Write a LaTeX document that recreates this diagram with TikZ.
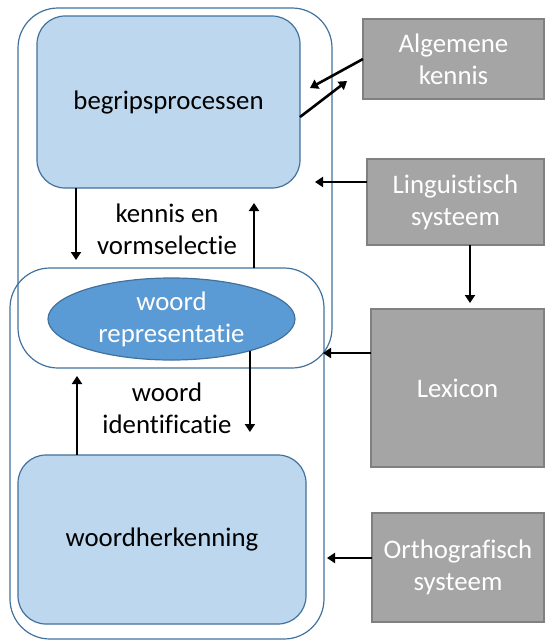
\documentclass[tikz,border=0pt]{standalone}
\usepackage{fontspec}
\setmainfont{Carlito}[Ligatures=NoCommon]
\usetikzlibrary{arrows.meta,shapes.geometric}
\definecolor{edgeblue}{HTML}{41719C}
\definecolor{lightblue}{HTML}{BDD7EE}
\definecolor{midblue}{HTML}{5B9BD5}
\definecolor{grayfill}{HTML}{A5A5A5}
\definecolor{grayedge}{HTML}{808080}
\begin{document}
\begin{tikzpicture}[x=1pt,y=-1pt,
  every node/.style={font=\fontsize{26.8}{31.7}\selectfont, align=center, inner sep=0pt, outer sep=0pt},
  container/.style={draw=edgeblue, line width=1.2pt, rounded corners=40pt},
  procbox/.style={draw=edgeblue, line width=1.2pt, fill=lightblue, rounded corners=28pt},
  repr/.style={ellipse, draw=edgeblue, line width=1.2pt, fill=midblue, text=white},
  source/.style={draw=grayedge, line width=1.2pt, fill=grayfill, text=white},
  arr/.style={-{Triangle[length=8pt,width=10pt]}, line width=2.6pt, black}]
\useasboundingbox (0,0) rectangle (545,641);

% two overlapping frames
\node[container, minimum width=314pt, minimum height=360pt] (upper) at (175,188) {};
\node[container, minimum width=314pt, minimum height=371pt] (lower) at (167,453.5) {};

% processes
\node[procbox, minimum width=263pt, minimum height=172pt] (bp) at (168.5,102) {begripsprocessen};
\node[repr, minimum width=247pt, minimum height=82pt] (rep) at (171.5,319) {woord\\representatie};
\node[procbox, minimum width=288pt, minimum height=169pt] (wh) at (162,539.5) {woordherkenning};

% labels between the processes
\node (lab1) at (167,229) {kennis en\\vormselectie};
\node (lab2) at (167,408) {woord\\identificatie};

% knowledge sources
\node[source, minimum width=181pt, minimum height=80pt] (alg) at (453.5,59) {Algemene\\kennis};
\node[source, minimum width=177pt, minimum height=86pt] (ling) at (455.5,202) {Linguistisch\\systeem};
\node[source, minimum width=173pt, minimum height=158pt] (lex) at (457.5,388) {Lexicon};
\node[source, minimum width=172pt, minimum height=109pt] (orth) at (458,567.5) {Orthografisch\\systeem};

% arrow tips
\coordinate (t1) at (76,260);
\coordinate (t2) at (254,203);
\coordinate (t3) at (251,432);
\coordinate (t4) at (77,376);
\coordinate (t5) at (310,88);
\coordinate (t6) at (347,81);
\coordinate (t7) at (315,182);
\coordinate (t8) at (470,303);
\coordinate (t9) at (323,353);
\coordinate (t10) at (327,558);

\draw[arr] (bp.south -| t1) -- (t1);
\draw[arr] (lower.north -| t2) -- (t2);
\draw[arr] (rep.-22) -- (rep.-22 |- t3);
\draw[arr] (wh.north -| t4) -- (t4);
\draw[arr] (alg.west) -- (t5);
\draw[arr] ([yshift=-15pt]bp.east) -- (t6);
\draw[arr] (ling.west |- t7) -- (t7);
\draw[arr] (ling.south -| t8) -- (t8);
\draw[arr] (lex.west |- t9) -- (t9);
\draw[arr] (orth.west |- t10) -- (t10);
\end{tikzpicture}
\end{document}
